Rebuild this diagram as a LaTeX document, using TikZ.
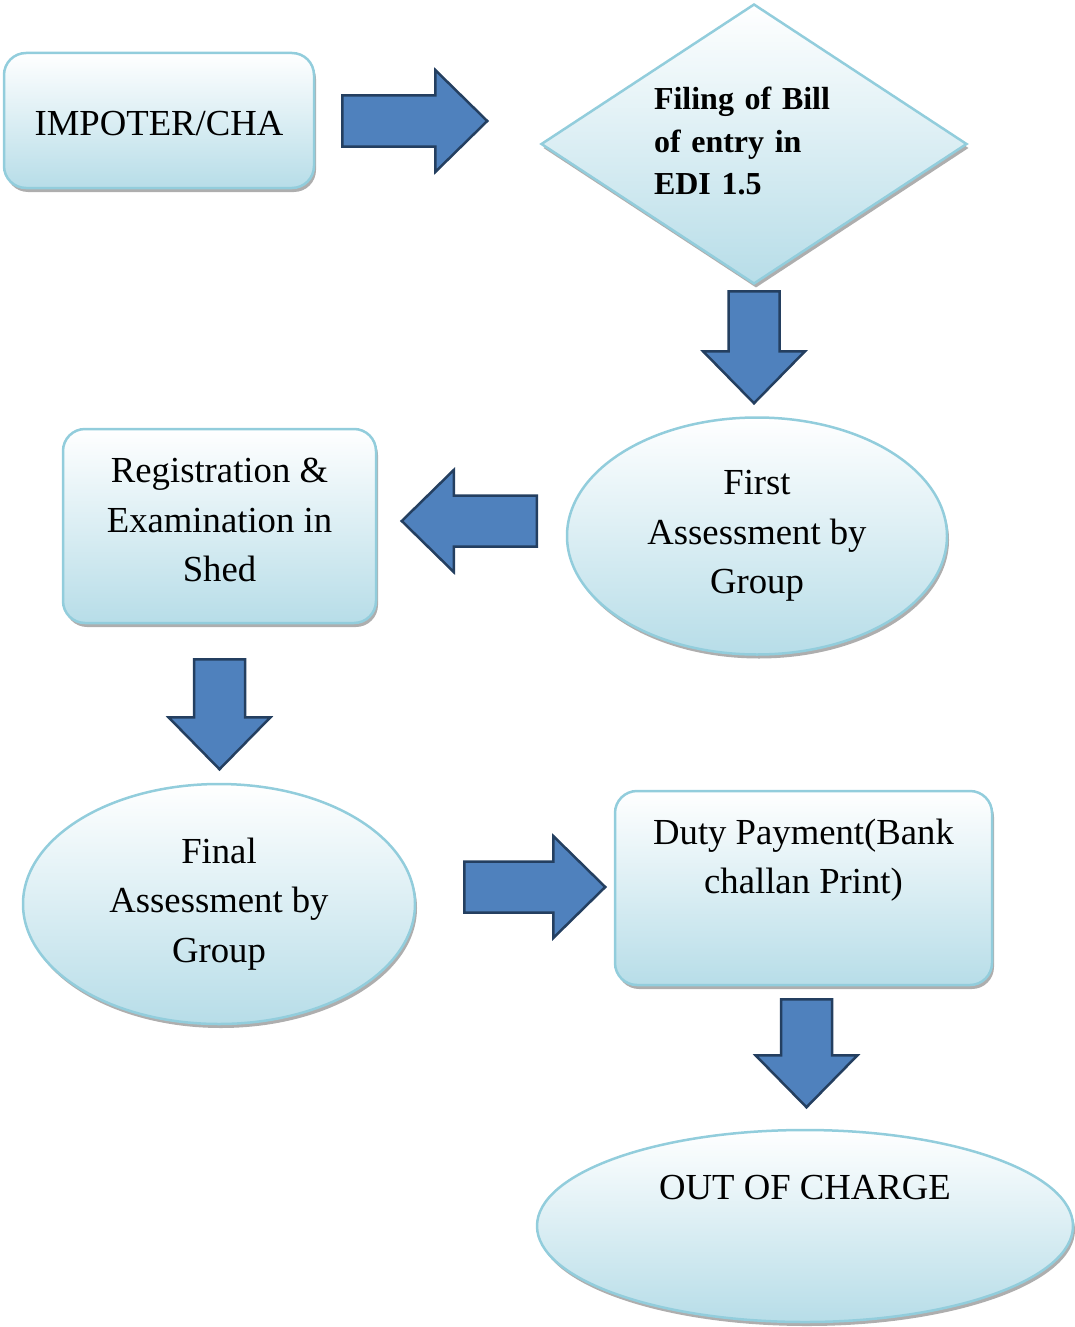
\documentclass[tikz,border=0pt]{standalone}
\usepackage{fontspec}
\setmainfont{Liberation Serif}
\usetikzlibrary{shapes.geometric,shadows,calc}
\definecolor{boxblue}{RGB}{183,221,232}
\definecolor{boxline}{RGB}{146,205,220}
\definecolor{arrowblue}{RGB}{79,129,189}
\definecolor{arrowline}{RGB}{36,63,96}
\tikzset{
  stage/.style={draw=boxline, line width=2.5pt, top color=white, bottom color=boxblue,
    drop shadow={shadow xshift=2pt, shadow yshift=-4pt, fill=black!45, opacity=.7},
    font=\fontsize{36.7}{49.5}\selectfont, align=center, inner sep=0pt},
  box/.style={stage, rectangle, rounded corners=22pt},
  oval/.style={stage, ellipse},
  stagetext/.style={font=\fontsize{36.7}{49.5}\selectfont, align=center, inner sep=0pt},
  pics/blockarr/.style={code={
    \draw[fill=arrowblue, draw=arrowline, line width=2.5pt, line join=miter]
      (0,-25.5) -- (#1-52,-25.5) -- (#1-52,-51) -- (#1,0) -- (#1-52,51)
      -- (#1-52,25.5) -- (0,25.5) -- cycle;
  }}
}
\begin{document}
\begin{tikzpicture}[x=1pt, y=-1pt]
  \useasboundingbox (0,0) rectangle (1075,1327);

  % stages
  \node[box, minimum width=310, minimum height=135] (imp) at (159,120.5) {};
  \node[stagetext] (imptxt) at ($(imp.center)+(0,3)$) {IMPOTER/CHA};
  \node[stage, diamond, aspect=1.52, minimum width=426, minimum height=280] (dia) at (754,144) {};
  \node[stagetext, text width=200, align=left, font=\bfseries\fontsize{32}{42.5}\selectfont]
    (diatxt) at ($(dia.center)+(0,-3)$) {Filing of Bill\\of entry in\\EDI 1.5};
  \node[oval, minimum width=380, minimum height=237] (first) at (757,536) {First\\Assessment by\\Group};
  \node[box, minimum width=313, minimum height=194] (reg) at (219.5,526) {};
  \node[stagetext] (regtxt) at ($(reg.center)+(0,-6)$) {Registration \&\\Examination in\\Shed};
  \node[oval, minimum width=392, minimum height=240] (final) at (219,904) {Final\\Assessment by\\Group};
  \node[box, minimum width=377, minimum height=194] (duty) at (803.5,888) {};
  \node[stagetext, anchor=north] (dutytxt) at ($(duty.north)+(0,29)$) {Duty Payment(Bank\\challan Print)};
  \node[oval, minimum width=536, minimum height=192] (out) at (805,1226) {};
  \node[stagetext, anchor=north] (outtxt) at ($(out.north)+(0,46)$) {OUT OF CHARGE};

  % block arrows
  \pic at ($(imp.east)+(27,0.5)$) {blockarr=145};
  \pic[rotate=-90] at ($(dia.south)+(0,6)$) {blockarr=112};
  \pic[rotate=180] at ($(first.west)+(-29,-15)$) {blockarr=135};
  \pic[rotate=-90] at ($(reg.south)+(0,35)$) {blockarr=110};
  \pic at ($(final.east)+(48,-17)$) {blockarr=141};
  \pic[rotate=-90] at ($(duty.south)+(3,13)$) {blockarr=108};
\end{tikzpicture}
\end{document}
